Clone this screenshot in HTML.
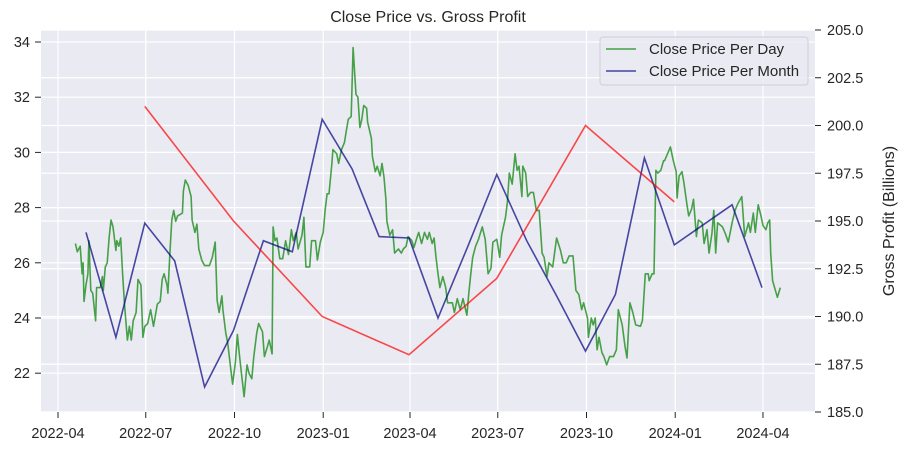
<!DOCTYPE html>
<html><head><meta charset="utf-8"><style>
html,body{margin:0;padding:0;background:#fff;}
svg{display:block;font-family:"Liberation Sans",sans-serif;}
</style></head><body>
<svg id="chart" width="905" height="452" viewBox="0 0 905 452">
<text x="428" y="22" text-anchor="middle" font-size="16" fill="#262626">Close Price vs. Gross Profit</text>
<rect x="41" y="30" width="774" height="382" fill="#eaeaf2"/>
<g id="grid"></g><g id="axes"></g><g id="series"></g>
<text transform="translate(894,221) rotate(-90)" text-anchor="middle" font-size="16" fill="#262626">Gross Profit (Billions)</text>
<g>
<rect x="600" y="37" width="208" height="48" rx="3" fill="#eaeaf2" fill-opacity="0.85" stroke="#cfcfd6"/>
<g><line x1="606" y1="49" x2="636" y2="49" stroke="green" stroke-opacity="0.7" stroke-width="1.6"/><text x="649" y="54" font-size="15" fill="#262626">Close Price Per Day</text></g>
<g><line x1="606" y1="71" x2="636" y2="71" stroke="navy" stroke-opacity="0.7" stroke-width="1.6"/><text x="649" y="76" font-size="15" fill="#262626">Close Price Per Month</text></g>
</g>
</svg>
<script>
const dailyDays=[18,20,23,25,26,27,29,31,32,34,36,39,40,44,46,47,49,51,53,55,57,60,61,63,65,67,69,72,74,76,78,81,83,86,88,90,93,96,99,101,103,106,108,110,113,114,116,118,120,122,124,129,130,132,135,138,139,142,144,146,149,152,157,160,163,165,167,170,171,174,176,179,181,184,186,188,191,193,196,198,201,203,206,208,212,214,217,219,222,223,225,227,230,233,236,239,242,244,247,249,253,255,257,261,263,267,269,272,275,277,279,281,284,285,289,291,294,297,299,301,304,306,307,309,311,313,315,317,320,321,325,326,329,331,334,336,338,340,341,344,347,349,353,356,358,361,363,367,369,372,374,377,380,383,385,388,390,392,394,396,399,402,404,409,411,414,417,420,424,426,428,430,433,436,440,443,446,449,451,455,458,460,464,466,468,471,474,476,478,481,482,485,487,490,493,496,499,502,504,507,509,513,517,521,524,527,530,534,537,540,543,545,549,550,553,555,557,559,561,564,566,569,572,576,579,581,585,588,590,593,596,599,604,606,609,612,613,616,618,620,622,625,628,629,632,635,638,641,642,644,647,649,652,654,657,659,662,664,668,670,673,675,678,680,682,684,689,692,695,699,702,705,709,712,716,718,721,723,726,729,731,734,736,738,739,741,746,749];
const dailyClose=[26.7,26.4,26.6,25.6,26.0,24.6,25.2,25.6,26.8,25.0,24.9,23.9,25.1,25.1,25.5,25.0,25.85,26.0,26.9,27.55,27.3,26.45,26.8,26.6,26.9,25.6,24.5,23.2,23.7,23.2,23.9,24.2,25.4,25.2,23.3,23.7,23.8,24.3,23.7,24.1,24.5,24.6,25.4,25.6,25.2,24.9,26.35,27.55,27.9,27.5,27.7,27.8,28.6,29.0,28.8,28.4,27.55,27.1,27.4,26.5,26.1,25.9,25.9,26.2,26.75,24.65,24.2,24.8,24.3,23.45,23.1,22.2,21.6,22.4,23.4,22.7,21.75,21.15,22.3,22.0,21.8,22.6,23.45,23.8,23.5,22.6,22.95,23.2,22.7,27.3,26.8,26.9,26.15,26.15,26.8,26.3,27.2,26.8,27.1,26.5,27.0,27.65,25.85,25.85,26.8,26.8,26.1,26.75,27.1,27.9,28.5,28.5,29.6,30.1,29.95,29.6,30.1,30.35,30.8,31.2,31.3,33.8,33.2,32.1,32.0,30.9,31.2,31.7,31.6,31.1,30.5,29.85,29.3,29.5,29.15,29.6,29.1,28.3,27.5,27.0,27.2,26.35,26.5,26.35,26.5,26.6,26.95,26.8,26.55,26.9,27.1,26.7,27.1,26.85,27.1,26.7,26.9,26.2,25.6,25.1,25.5,25.1,24.55,24.55,24.2,24.7,24.3,24.7,24.1,24.9,25.6,26.2,26.6,26.85,27.3,26.85,25.6,25.8,26.75,26.85,26.2,27.0,27.65,28.2,29.25,28.85,29.95,29.35,29.5,28.4,29.5,29.25,28.4,28.55,28.55,27.9,27.9,26.35,26.2,25.5,26.0,25.85,26.9,26.45,26.0,26.0,26.25,26.25,25.0,24.85,24.3,24.55,24.0,23.3,24.0,23.75,24.0,22.85,23.3,22.75,22.6,22.3,22.6,22.6,22.85,24.3,23.75,22.95,22.55,24.55,24.2,23.75,23.7,23.9,25.6,25.6,25.35,25.6,25.6,29.35,29.25,29.35,29.7,29.7,29.95,30.2,29.7,29.3,28.35,29.15,29.3,28.9,28.15,27.7,27.95,28.3,26.95,27.55,27.45,26.7,27.2,26.35,27.05,27.9,26.35,27.45,27.3,27.05,26.75,27.45,27.9,28.15,28.4,26.95,27.45,27.1,27.8,27.1,28.1,27.7,27.35,27.2,27.45,27.55,26.35,25.35,24.75,25.1];
const monthDates=["2022-04-30","2022-05-31","2022-06-30","2022-07-31","2022-08-31","2022-09-30","2022-10-31","2022-11-30","2022-12-31","2023-01-31","2023-02-28","2023-03-31","2023-04-30","2023-05-31","2023-06-30","2023-07-31","2023-08-31","2023-09-30","2023-10-31","2023-11-30","2023-12-31","2024-01-31","2024-02-29","2024-03-31"];
const monthClose=[27.1,23.3,27.44,26.07,21.5,23.55,26.8,26.4,31.2,29.4,26.95,26.9,24.0,26.6,29.2,26.8,24.8,22.8,24.85,29.8,26.65,27.4,28.1,25.1];
const quarterDates=["2022-06-30","2022-09-30","2022-12-31","2023-03-31","2023-06-30","2023-09-30","2023-12-31"];
const grossProfit=[201,195,190,188,192,200,196];
const leftTicks=[22,24,26,28,30,32,34];
const rightTicks=[185,187.5,190,192.5,195,197.5,200,202.5,205];
const dateTicks=["2022-04","2022-07","2022-10","2023-01","2023-04","2023-07","2023-10","2024-01","2024-04"];

const NS="http://www.w3.org/2000/svg";
const T0=Date.UTC(2022,3,1);
function dayOf(s){const p=s.split("-").map(Number);return (Date.UTC(p[0],p[1]-1,p[2]||1)-T0)/86400000;}
function xDay(d){return 58+d*0.9644;}
function yL(v){return 42+(34-v)*27.6;}
function yR(v){return 30+(205-v)*19.1;}
function mk(tag,attrs,parent){const e=document.createElementNS(NS,tag);for(const k in attrs)e.setAttribute(k,attrs[k]);parent.appendChild(e);return e;}
const grid=document.getElementById('grid'),axes=document.getElementById('axes'),ser=document.getElementById('series');

dateTicks.forEach(t=>{const x=xDay(dayOf(t));
 const g=mk('line',{x1:x,x2:x,y1:30,y2:412,stroke:'#fff','stroke-width':1.2},grid);
 
 
 mk('line',{x1:x,x2:x,y1:412,y2:418,stroke:'#262626','stroke-width':1},axes);
 const tx=mk('text',{x:x,y:438,'text-anchor':'middle','font-size':14.5,fill:'#262626'},axes);tx.textContent=t;
 
 
});
leftTicks.forEach(v=>{const y=yL(v);
 const g=mk('line',{x1:41,x2:815,y1:y,y2:y,stroke:'#fff','stroke-width':1.2},grid);
 
 
 mk('line',{x1:35,x2:41,y1:y,y2:y,stroke:'#262626','stroke-width':1},axes);
 const tx=mk('text',{x:30,y:y+5,'text-anchor':'end','font-size':14.5,fill:'#262626'},axes);tx.textContent=v;
 
 
});
rightTicks.forEach(v=>{const y=yR(v);
 const g=mk('line',{x1:41,x2:815,y1:y,y2:y,stroke:'#fff','stroke-width':1.2},grid);
 
 
 mk('line',{x1:815,x2:821,y1:y,y2:y,stroke:'#262626','stroke-width':1},axes);
 const tx=mk('text',{x:827,y:y+5,'font-size':14.5,fill:'#262626'},axes);tx.textContent=v.toFixed(1);
 
 
});
const pd=dailyDays.map((d,i)=>xDay(d).toFixed(1)+','+yL(dailyClose[i]).toFixed(1)).join(' ');
const l1=mk('polyline',{points:pd,fill:'none',stroke:'green','stroke-opacity':0.7,'stroke-width':1.6,'stroke-linejoin':'round'},ser);


const pm=monthDates.map((d,i)=>xDay(dayOf(d)).toFixed(1)+','+yL(monthClose[i]).toFixed(1)).join(' ');
const l2=mk('polyline',{points:pm,fill:'none',stroke:'navy','stroke-opacity':0.7,'stroke-width':1.6},ser);


const pq=quarterDates.map((d,i)=>xDay(dayOf(d)).toFixed(1)+','+yR(grossProfit[i]).toFixed(1)).join(' ');
const l3=mk('polyline',{points:pq,fill:'none',stroke:'red','stroke-opacity':0.7,'stroke-width':1.6},ser);


</script>
</body></html>
